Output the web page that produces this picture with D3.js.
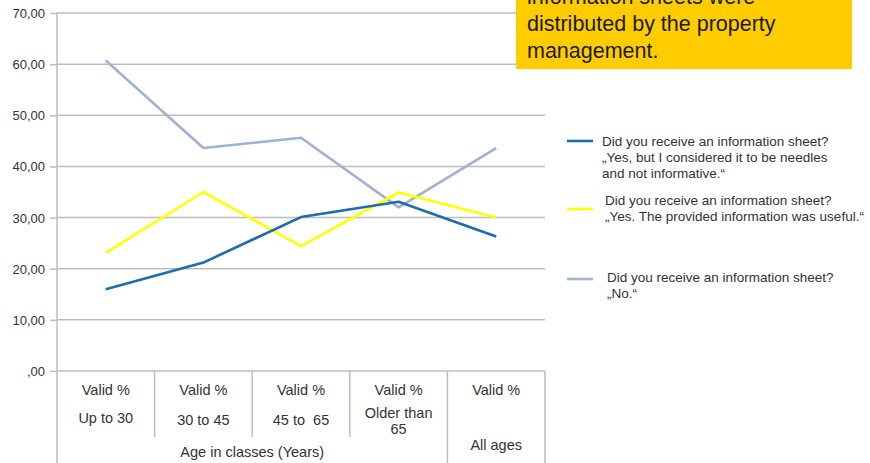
<html>
  <head>
    <meta charset="UTF-8">
    <script src="https://cdnjs.cloudflare.com/ajax/libs/d3/7.8.5/d3.min.js"></script>
    <style>
      body {
        margin: 0;
        background: #fff;
        font-family: 'Liberation Sans', Arial, sans-serif;
      }
      .tick-label {
        font-size: 13px;
        fill: #333;
      }
      .cell-label {
        font-size: 14.5px;
        fill: #333;
        white-space: pre;
      }
      .legend-label {
        font-size: 13.5px;
        fill: #333;
      }
      .note {
        font-size: 21.5px;
        fill: #1a1a1a;
      }
    </style>
  </head>
  <body>
    <svg id="chart"></svg>
    <script>
      const categories = ['Up to 30', '30 to 45', '45 to 65', 'Older than 65', 'All ages']
      const groupLabels = ['Up to 30', '30 to 45', '45 to  65', 'Older than\n65', '']
      const rowLabel = 'Valid %'
      const yTicks = [0, 10, 20, 30, 40, 50, 60, 70]
      const yTickLabels = [',00', '10,00', '20,00', '30,00', '40,00', '50,00', '60,00', '70,00']

      const needless = [16.0, 21.2, 30.1, 33.1, 26.3]
      const useful = [23.1, 35.0, 24.4, 34.9, 30.0]
      const noSheet = [60.7, 43.6, 45.6, 32.0, 43.6]

      const seriesNames = [
        ['Did you receive an information sheet?', '„Yes, but I considered it to be needles', 'and not informative.“'],
        ['Did you receive an information sheet?', '„Yes. The provided information was useful.“'],
        ['Did you receive an information sheet?', '„No.“']
      ]
      const seriesColors = ['#1b6db0', '#ffff00', '#9fb2d4']
      const noteLines = ['information sheets were', 'distributed by the property', 'management.']

      const width = 870
      const height = 463

      const svg = d3.select('#chart')
        .attr('width', width)
        .attr('height', height)

      const x = d3.scaleBand()
        .domain(categories)
        .range([57, 545])

      const y = d3.scaleLinear()
        .domain([0, 70])
        .range([371, 13])

      // gridlines
      svg.append('g')
        .selectAll('line')
        .data(yTicks.filter(d => d > 0))
        .enter().append('line')
        .attr('x1', 57)
        .attr('x2', 545)
        .attr('y1', d => y(d))
        .attr('y2', d => y(d))
        .attr('stroke', '#bdbdbd')
        .attr('stroke-width', 1.5)

      // y axis
      const yAxis = svg.append('g')
        .attr('transform', 'translate(57,0)')
        .call(d3.axisLeft(y)
          .tickValues(yTicks)
          .tickSize(7)
          .tickPadding(5)
          .tickFormat((d, i) => yTickLabels[i]))
      yAxis.select('.domain').remove()
      yAxis.selectAll('.tick line').attr('stroke', '#bdbdbd').attr('stroke-width', 1.5)
      yAxis.selectAll('.tick text')
        .attr('class', 'tick-label')
        .attr('font-family', null)
        .attr('font-size', null)
        .attr('fill', null)
        .attr('dy', '0.35em')

      // table below the chart
      const table = svg.append('g')
      table.append('line')
        .attr('x1', 57).attr('x2', 545)
        .attr('y1', y(0)).attr('y2', y(0))
        .attr('stroke', '#bdbdbd').attr('stroke-width', 1.5)
      table.append('line')
        .attr('x1', 57).attr('x2', 57)
        .attr('y1', 13).attr('y2', height)
        .attr('stroke', '#bdbdbd').attr('stroke-width', 1.5)

      const bounds = categories.map(c => x(c) + x.bandwidth())
      table.selectAll('.sep')
        .data(bounds)
        .enter().append('line')
        .attr('class', 'sep')
        .attr('x1', d => d).attr('x2', d => d)
        .attr('y1', y(0))
        .attr('y2', (d, i) => i >= 3 ? height : 437)
        .attr('stroke', '#bdbdbd').attr('stroke-width', 1.5)

      table.selectAll('.valid')
        .data(categories)
        .enter().append('text')
        .attr('class', 'cell-label valid')
        .attr('x', d => x(d) + x.bandwidth() / 2)
        .attr('y', 395)
        .attr('text-anchor', 'middle')
        .text(rowLabel)

      categories.forEach((c, i) => {
        const lines = groupLabels[i].split('\n').filter(s => s)
        lines.forEach((s, j) => {
          table.append('text')
            .attr('class', 'cell-label')
            .attr('x', x(c) + x.bandwidth() / 2)
            .attr('y', (lines.length > 1 ? 418 : 425) + j * 16 + (i === 0 ? -2 : 0))
            .attr('text-anchor', 'middle')
            .text(s)
        })
      })

      table.append('text')
        .attr('class', 'cell-label')
        .attr('x', (x(categories[0]) + x(categories[3]) + x.bandwidth()) / 2)
        .attr('y', 457)
        .attr('text-anchor', 'middle')
        .text('Age in classes (Years)')

      table.append('text')
        .attr('class', 'cell-label')
        .attr('x', x(categories[4]) + x.bandwidth() / 2)
        .attr('y', 450)
        .attr('text-anchor', 'middle')
        .text(categories[4])

      // lines
      const line = d3.line()
        .x((d, i) => x(categories[i]) + x.bandwidth() / 2)
        .y(d => y(d))

      const allSeries = [needless, useful, noSheet]
      const drawOrder = [2, 1, 0]
      svg.append('g')
        .selectAll('path')
        .data(drawOrder)
        .enter().append('path')
        .attr('d', d => line(allSeries[d]))
        .attr('fill', 'none')
        .attr('stroke', d => seriesColors[d])
        .attr('stroke-width', 2.6)
        .attr('stroke-linejoin', 'round')

      // legend
      const legendPos = [
        { sy: 141, tx: 602, ty: 146 },
        { sy: 209, tx: 605, ty: 205 },
        { sy: 279, tx: 607, ty: 282 }
      ]
      const legend = svg.append('g')
      seriesNames.forEach((lines, i) => {
        const p = legendPos[i]
        legend.append('line')
          .attr('x1', 567).attr('x2', 593)
          .attr('y1', p.sy).attr('y2', p.sy)
          .attr('stroke', seriesColors[i])
          .attr('stroke-width', 2.6)
        lines.forEach((s, j) => {
          legend.append('text')
            .attr('class', 'legend-label')
            .attr('x', p.tx)
            .attr('y', p.ty + j * 16)
            .text(s)
        })
      })

      // yellow note box
      const note = svg.append('g')
      note.append('rect')
        .attr('x', 516).attr('y', 0)
        .attr('width', 336).attr('height', 69)
        .attr('fill', '#ffcc00')
      noteLines.forEach((s, i) => {
        note.append('text')
          .attr('class', 'note')
          .attr('x', 527)
          .attr('y', 4 + i * 27)
          .text(s)
      })
    </script>
  </body>
</html>
